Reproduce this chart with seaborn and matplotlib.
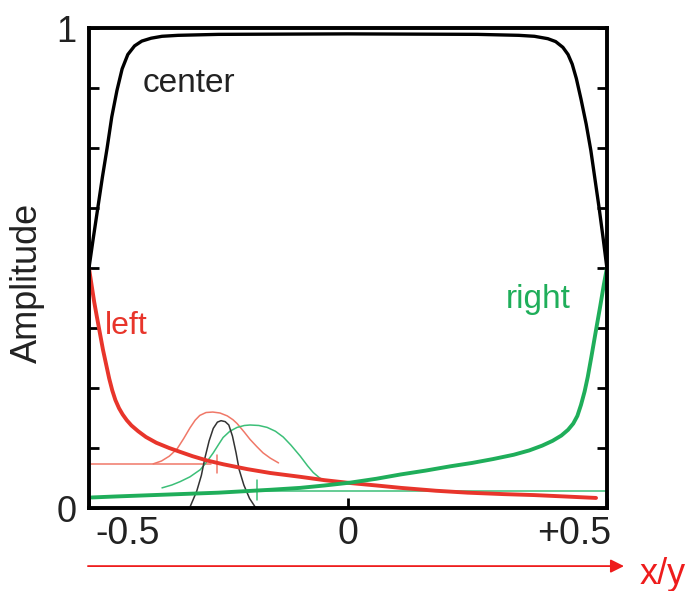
import numpy as np
import pandas as pd
import matplotlib
matplotlib.use("Agg")
import matplotlib.pyplot as plt
import matplotlib.transforms as mtransforms
import seaborn as sns

# ---------------- data ----------------
center_x = [-0.500, -0.492, -0.483, -0.474, -0.465, -0.456, -0.446, -0.436, -0.425, -0.412,
            -0.398, -0.380, -0.359, -0.328, -0.25, 0.0, 0.25, 0.33, 0.36, 0.386, 0.401,
            0.415, 0.425, 0.433, 0.441, 0.450, 0.460, 0.469, 0.477, 0.485, 0.493, 0.500]
center_y = [0.50, 0.56, 0.625, 0.69, 0.75, 0.815, 0.87, 0.915, 0.945, 0.963,
            0.973, 0.979, 0.983, 0.985, 0.987, 0.988, 0.987, 0.985, 0.983, 0.978, 0.972,
            0.960, 0.945, 0.925, 0.895, 0.852, 0.80, 0.745, 0.685, 0.625, 0.56, 0.50]

left_x = [-0.500, -0.495, -0.490, -0.485, -0.479, -0.473, -0.467, -0.461, -0.455, -0.449,
          -0.442, -0.435, -0.427, -0.418, -0.405, -0.390, -0.370, -0.345, -0.324, -0.300,
          -0.272, -0.240, -0.194, -0.150, -0.092, -0.045, 0.005, 0.055, 0.102, 0.170,
          0.231, 0.300, 0.359, 0.420, 0.479]
left_y = [0.50, 0.465, 0.43, 0.40, 0.365, 0.33, 0.30, 0.27, 0.245, 0.225,
          0.208, 0.195, 0.183, 0.172, 0.160, 0.148, 0.136, 0.125, 0.117, 0.108,
          0.099, 0.091, 0.081, 0.073, 0.065, 0.058, 0.052, 0.047, 0.042, 0.036,
          0.032, 0.029, 0.027, 0.024, 0.021]

right_x = [-0.495, -0.45, -0.40, -0.35, -0.30, -0.25, -0.20, -0.15, -0.092, -0.045, 0.005,
           0.055, 0.102, 0.150, 0.198, 0.240, 0.280, 0.320, 0.350, 0.375, 0.395, 0.412,
           0.425, 0.435, 0.443, 0.450, 0.457, 0.463, 0.470, 0.479, 0.487, 0.494, 0.500]
right_y = [0.022, 0.024, 0.026, 0.028, 0.030, 0.032, 0.035, 0.038, 0.042, 0.047, 0.053,
           0.061, 0.070, 0.078, 0.087, 0.094, 0.102, 0.111, 0.120, 0.130, 0.140, 0.151,
           0.163, 0.176, 0.192, 0.215, 0.243, 0.273, 0.315, 0.371, 0.42, 0.465, 0.50]

# small distributions (thin curves)
red_pdf_x = [-0.376, -0.360, -0.345, -0.330, -0.317, -0.305, -0.295, -0.286, -0.274, -0.261,
             -0.247, -0.233, -0.222, -0.214, -0.200, -0.189, -0.176, -0.164, -0.150, -0.134]
red_pdf_y = [0.092, 0.098, 0.108, 0.123, 0.145, 0.167, 0.183, 0.193, 0.199, 0.200,
             0.198, 0.192, 0.184, 0.176, 0.158, 0.143, 0.128, 0.115, 0.104, 0.094]
red_base_x = [-0.500, -0.265]
red_base_y = [0.092, 0.092]
red_mark_x = [-0.252, -0.252]
red_mark_y = [0.073, 0.110]

green_pdf_x = [-0.359, -0.340, -0.324, -0.305, -0.285, -0.272, -0.260, -0.250, -0.241, -0.228,
               -0.214, -0.200, -0.189, -0.172, -0.156, -0.140, -0.125, -0.110, -0.092, -0.078,
               -0.067, -0.055, -0.045]
green_pdf_y = [0.042, 0.048, 0.055, 0.065, 0.080, 0.097, 0.115, 0.132, 0.147, 0.160,
               0.168, 0.172, 0.173, 0.172, 0.168, 0.160, 0.148, 0.131, 0.108, 0.088,
               0.074, 0.063, 0.057]
green_base_x = [-0.20, 0.500]
green_base_y = [0.035, 0.035]
green_mark_x = [-0.175, -0.175]
green_mark_y = [0.017, 0.058]

black_pdf_x = [-0.305, -0.292, -0.283, -0.276, -0.268, -0.260, -0.252, -0.245, -0.237, -0.230,
               -0.223, -0.216, -0.210, -0.201, -0.190, -0.179]
black_pdf_y = [0.002, 0.035, 0.068, 0.105, 0.140, 0.166, 0.179, 0.182, 0.180, 0.173,
               0.150, 0.115, 0.080, 0.048, 0.020, 0.002]

x_ticks = [-0.5, 0.0, 0.5]
x_tick_labels = ["-0.5", "0", "+0.5"]
y_ticks = [0, 0.125, 0.25, 0.375, 0.5, 0.625, 0.75, 0.875, 1.0]
y_tick_labels = ["0", "", "", "", "", "", "", "", "1"]

# ---------------- style ----------------
sns.set_theme(style="white")
plt.rcParams["font.family"] = ["Liberation Sans", "DejaVu Sans"]

RED = "#e8352b"
GREEN = "#1fae5a"
RED_THIN = "#f07868"
GREEN_THIN = "#3cbf78"
TXT = "#222222"

fig = plt.figure(figsize=(6.86, 5.91), dpi=100)
ax = fig.add_axes([0.1297, 0.1404, 0.755, 0.812])

def line(xs, ys, color, lw):
    sns.lineplot(x=xs, y=ys, ax=ax, color=color, lw=lw, sort=False,
                 estimator=None, legend=False)

# thin distributions first
line(red_base_x, red_base_y, RED_THIN, 1.1)
line(red_pdf_x, red_pdf_y, RED_THIN, 1.1)
line(red_mark_x, red_mark_y, RED_THIN, 1.1)
line(green_base_x, green_base_y, GREEN_THIN, 1.1)
line(green_pdf_x, green_pdf_y, GREEN_THIN, 1.1)
line(green_mark_x, green_mark_y, GREEN_THIN, 1.1)
line(black_pdf_x, black_pdf_y, "#333333", 1.1)

# main curves
line(center_x, center_y, "black", 2.4)
line(left_x, left_y, RED, 2.8)
line(right_x, right_y, GREEN, 2.8)

ax.set_xlim(-0.5, 0.5)
ax.set_ylim(0, 1)

for s in ax.spines.values():
    s.set_visible(True)
    s.set_color("black")
    s.set_linewidth(2.8)

ax.set_xticks(x_ticks)
ax.set_xticklabels(x_tick_labels)
ax.set_yticks(y_ticks)
ax.set_yticklabels(y_tick_labels)
ax.tick_params(axis="y", direction="in", left=True, right=True, length=7, width=2.0,
               labelsize=26, pad=9, colors="black", labelcolor=TXT)
ax.tick_params(axis="x", direction="in", bottom=True, top=False, length=7, width=2.0,
               labelsize=27, pad=6, colors="black", labelcolor=TXT)
xl = ax.get_xticklabels()
xl[0].set_ha("left")
xl[0].set_transform(xl[0].get_transform() +
                    mtransforms.ScaledTranslation(6 / 100, 0, fig.dpi_scale_trans))
xl[-1].set_ha("right")
xl[-1].set_transform(xl[-1].get_transform() +
                     mtransforms.ScaledTranslation(4 / 100, 0, fig.dpi_scale_trans))

ax.set_xlabel("")
ax.set_ylabel("Amplitude", fontsize=26, color=TXT)
ax.yaxis.set_label_coords(-0.085, 0.47)

ax.text(-0.396, 0.867, "center", fontsize=24, color=TXT, ha="left", va="baseline")
ax.text(-0.469, 0.363, "left", fontsize=23, color=RED, ha="left", va="baseline")
ax.text(0.305, 0.417, "right", fontsize=24, color=GREEN, ha="left", va="baseline")

ax.annotate("", xy=(0.533, -0.121), xytext=(-0.502, -0.121), xycoords="data",
            arrowprops=dict(arrowstyle="-|>", color="#ee1c1c", lw=1.3, mutation_scale=20,
                            shrinkA=0, shrinkB=0),
            annotation_clip=False)
ax.text(0.564, -0.138, "x/y", fontsize=26, color="#ee1c1c", ha="left", va="center",
        clip_on=False)

fig.savefig("out.png", dpi=100)
